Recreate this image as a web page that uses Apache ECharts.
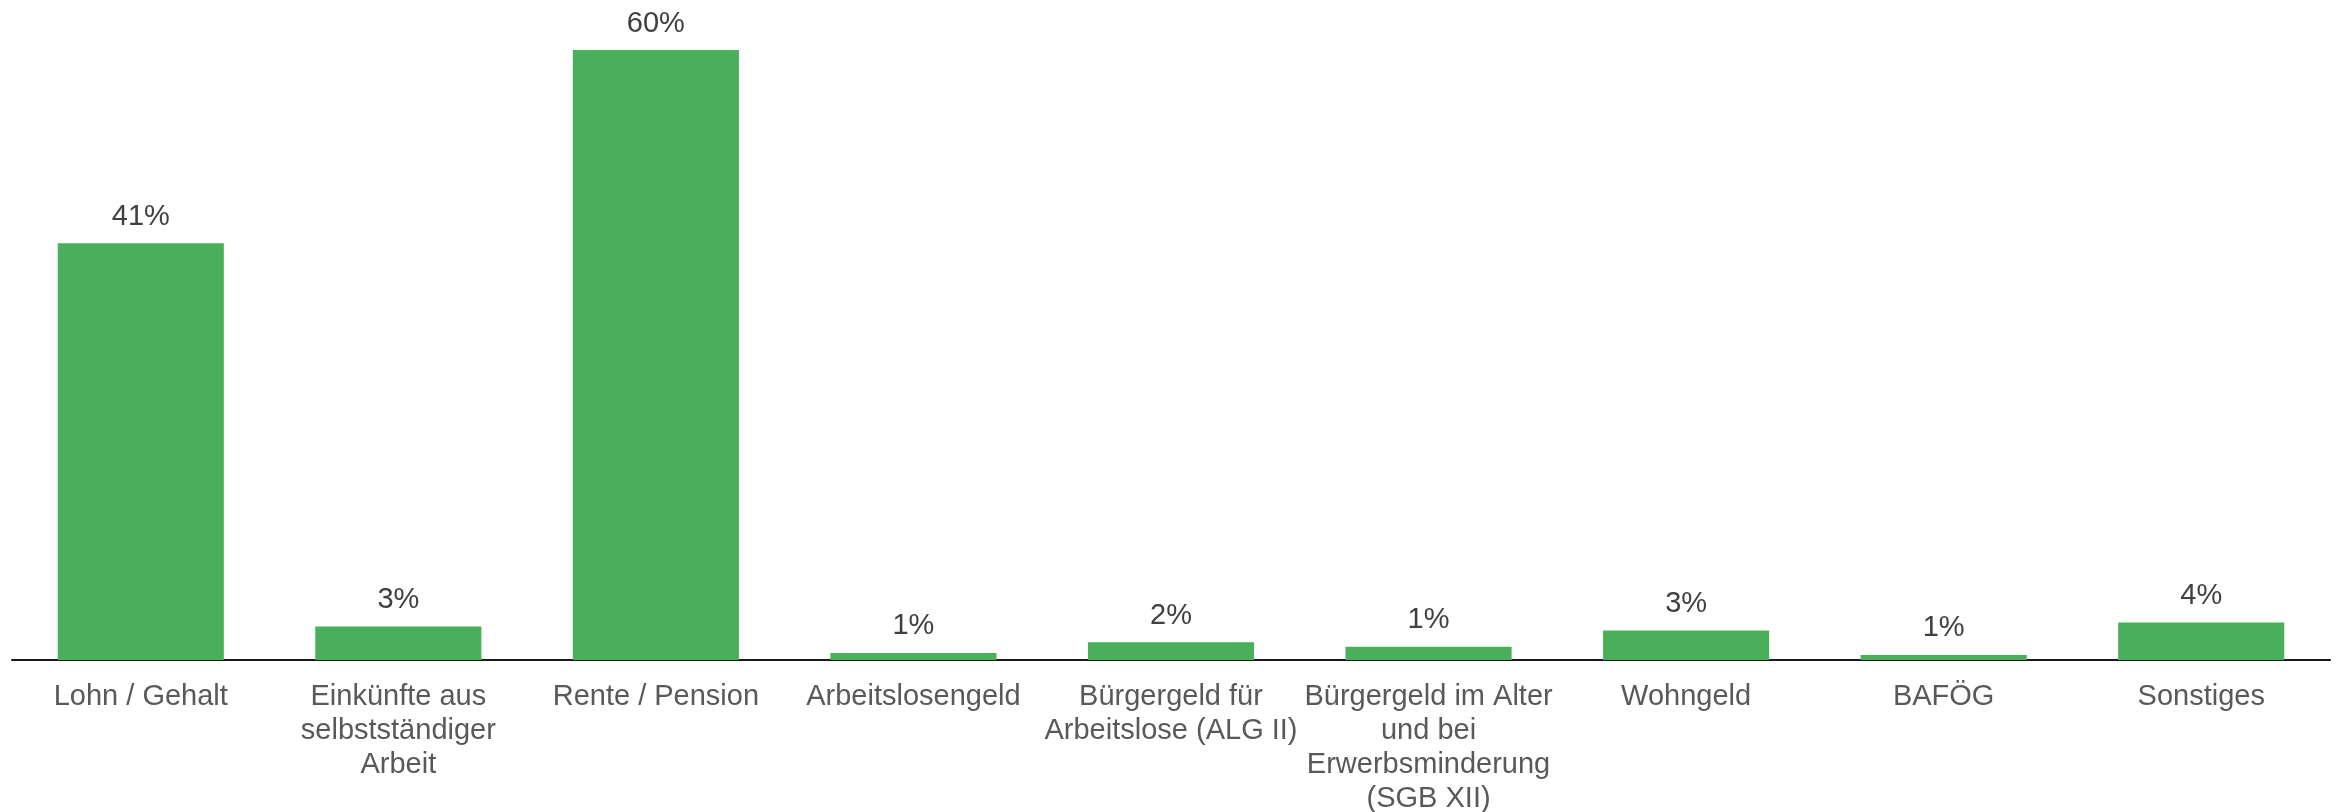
<!DOCTYPE html>
<html>
<head>
<meta charset="utf-8">
<style>
  html, body { margin: 0; padding: 0; background: #ffffff; }
  #chart { width: 2341px; height: 812px; }
</style>
<script src="https://cdn.jsdelivr.net/npm/echarts@6/dist/echarts.min.js"></script>
</head>
<body>
<div id="chart"></div>
<script>
// Einkommensquellen (Anteil in %)
const categories = [
  'Lohn / Gehalt',
  'Einkünfte aus\nselbstständiger\nArbeit',
  'Rente / Pension',
  'Arbeitslosengeld',
  'Bürgergeld für\nArbeitslose (ALG II)',
  'Bürgergeld im Alter\nund bei\nErwerbsminderung\n(SGB XII)',
  'Wohngeld',
  'BAFÖG',
  'Sonstiges'
];
const shares = [41.0, 3.3, 60.0, 0.7, 1.75, 1.3, 2.9, 0.5, 3.7];

const chart = echarts.init(document.getElementById('chart'), null, { renderer: 'canvas' });

chart.setOption({
  animation: false,
  backgroundColor: '#ffffff',
  textStyle: { fontFamily: 'Liberation Sans, Arial, sans-serif' },
  grid: {
    left: 12, right: 11, top: 50, bottom: 152,
    containLabel: false,
    outerBoundsMode: 'none'
  },
  xAxis: {
    type: 'category',
    data: categories,
    axisLine: { show: true, lineStyle: { color: '#1a1a1a', width: 2 } },
    axisTick: { show: false },
    axisLabel: {
      interval: 0,
      margin: 20,
      color: '#595959',
      fontSize: 29,
      lineHeight: 34,
      fontFamily: 'Liberation Sans, Arial, sans-serif'
    }
  },
  yAxis: {
    type: 'value',
    min: 0,
    max: 60,
    show: false,
    splitLine: { show: false }
  },
  series: [{
    type: 'bar',
    data: shares,
    barWidth: '64.5%',
    itemStyle: { color: '#4aaf5b' },
    label: {
      show: true,
      position: 'top',
      distance: 12,
      color: '#404040',
      fontSize: 29,
      fontFamily: 'Liberation Sans, Arial, sans-serif',
      formatter: p => Math.round(p.value) + '%'
    }
  }]
});
</script>
</body>
</html>
